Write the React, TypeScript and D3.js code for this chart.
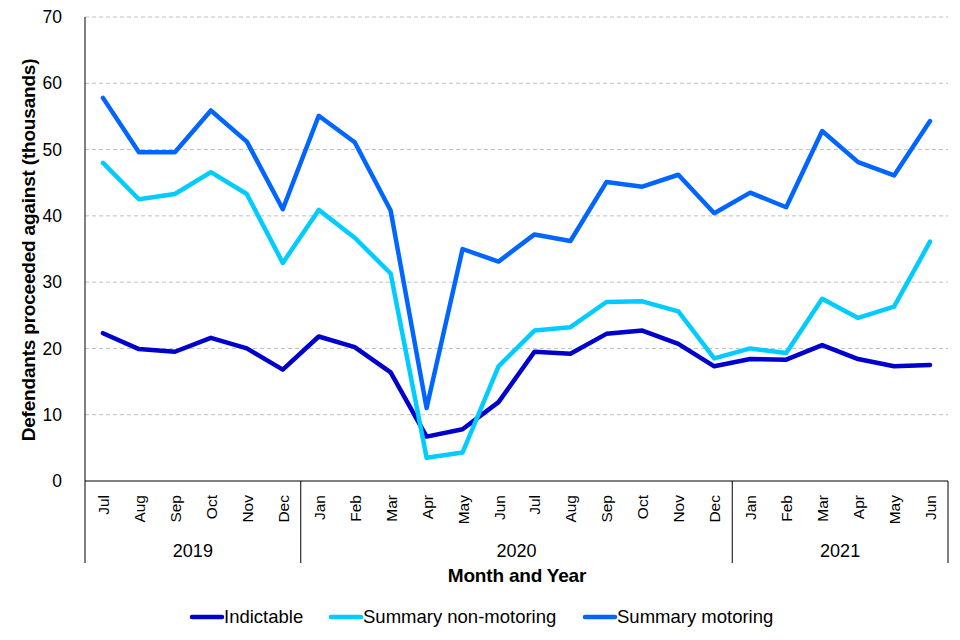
import { useRef, useEffect } from 'react';
import * as d3 from 'd3';

const months = [
  'Jul', 'Aug', 'Sep', 'Oct', 'Nov', 'Dec',
  'Jan', 'Feb', 'Mar', 'Apr', 'May', 'Jun', 'Jul', 'Aug', 'Sep', 'Oct', 'Nov', 'Dec',
  'Jan', 'Feb', 'Mar', 'Apr', 'May', 'Jun',
];
const years = [
  { label: '2019', count: 6 },
  { label: '2020', count: 12 },
  { label: '2021', count: 6 },
];
const indictable = [
  22.3, 19.9, 19.5, 21.6, 20.0, 16.8,
  21.8, 20.2, 16.4, 6.7, 7.8, 11.9, 19.5, 19.2, 22.2, 22.7, 20.7, 17.3,
  18.4, 18.3, 20.5, 18.4, 17.3, 17.5,
];
const nonMotoring = [
  48.0, 42.5, 43.3, 46.6, 43.3, 32.9,
  40.9, 36.7, 31.3, 3.5, 4.3, 17.3, 22.7, 23.2, 27.0, 27.1, 25.6, 18.5,
  20.0, 19.3, 27.5, 24.6, 26.3, 36.1,
];
const motoring = [
  57.8, 49.6, 49.6, 55.9, 51.2, 41.0,
  55.1, 51.1, 40.8, 11.0, 35.0, 33.1, 37.2, 36.2, 45.1, 44.4, 46.2, 40.4,
  43.5, 41.3, 52.8, 48.1, 46.1, 54.3,
];
const yTicks = [0, 10, 20, 30, 40, 50, 60, 70];

const series = [
  { name: 'Indictable', values: indictable, color: '#0000CC' },
  { name: 'Summary non-motoring', values: nonMotoring, color: '#00CCFF' },
  { name: 'Summary motoring', values: motoring, color: '#0066FF' },
];

const W = 960;
const H = 640;
const left = 85;
const right = 948;
const top = 17;
const bottom = 481;
const font = '"Liberation Sans", Arial, sans-serif';

const App = () => {
  const svgRef = useRef<SVGSVGElement | null>(null);

  useEffect(() => {
    const svg = d3.select(svgRef.current);
    svg.selectAll('*').remove();

    const x = d3.scaleBand<number>()
      .domain(months.map((m, i) => i))
      .range([left, right]);
    const y = d3.scaleLinear().domain([0, 70]).range([bottom, top]);

    // gridlines
    svg.append('g')
      .selectAll('line')
      .data(yTicks.filter((t) => t > 0))
      .join('line')
      .attr('x1', left)
      .attr('x2', right)
      .attr('y1', (d) => y(d))
      .attr('y2', (d) => y(d))
      .attr('stroke', '#c0c0c0')
      .attr('stroke-width', 1)
      .attr('stroke-dasharray', '4,3');

    // y tick labels
    svg.append('g')
      .selectAll('text')
      .data(yTicks)
      .join('text')
      .attr('x', 62)
      .attr('y', (d) => y(d))
      .attr('dy', '0.35em')
      .attr('text-anchor', 'end')
      .attr('font-family', font)
      .attr('font-size', 17.5)
      .text((d) => d);

    // axes lines
    svg.append('line')
      .attr('x1', left).attr('x2', left)
      .attr('y1', top).attr('y2', bottom)
      .attr('stroke', '#000');
    svg.append('line')
      .attr('x1', left).attr('x2', right)
      .attr('y1', bottom).attr('y2', bottom)
      .attr('stroke', '#000');

    // month labels
    svg.append('g')
      .selectAll('text')
      .data(months)
      .join('text')
      .attr('transform', (d, i) => `translate(${x(i)! + x.bandwidth() / 2 + 6},495) rotate(-90)`)
      .attr('text-anchor', 'end')
      .attr('font-family', font)
      .attr('font-size', 15.5)
      .text((d) => d);

    // year groups
    let start = 0;
    const bounds = [0];
    years.forEach((yr) => {
      start += yr.count;
      bounds.push(start);
    });
    svg.append('g')
      .selectAll('line')
      .data(bounds)
      .join('line')
      .attr('x1', (b) => (b < months.length ? x(b)! : right))
      .attr('x2', (b) => (b < months.length ? x(b)! : right))
      .attr('y1', bottom)
      .attr('y2', 563)
      .attr('stroke', '#000');
    svg.append('g')
      .selectAll('text')
      .data(years)
      .join('text')
      .attr('x', (yr, i) => {
        const a = x(bounds[i])!;
        const b = bounds[i + 1] < months.length ? x(bounds[i + 1])! : right;
        return (a + b) / 2;
      })
      .attr('y', 557)
      .attr('text-anchor', 'middle')
      .attr('font-family', font)
      .attr('font-size', 18)
      .text((yr) => yr.label);

    // titles
    svg.append('text')
      .attr('transform', `translate(35,250) rotate(-90)`)
      .attr('text-anchor', 'middle')
      .attr('font-family', font)
      .attr('font-size', 19)
      .attr('font-weight', 'bold')
      .attr('letter-spacing', -0.2)
      .text('Defendants proceeded against (thousands)');
    svg.append('text')
      .attr('x', 517)
      .attr('y', 582)
      .attr('text-anchor', 'middle')
      .attr('font-family', font)
      .attr('font-size', 19)
      .attr('font-weight', 'bold')
      .attr('letter-spacing', -0.2)
      .text('Month and Year');

    // lines
    const line = d3.line<number>()
      .x((d, i) => x(i)! + x.bandwidth() / 2)
      .y((d) => y(d));
    svg.append('g')
      .selectAll('path')
      .data(series)
      .join('path')
      .attr('d', (s) => line(s.values))
      .attr('fill', 'none')
      .attr('stroke', (s) => s.color)
      .attr('stroke-width', 4.5)
      .attr('stroke-linejoin', 'round')
      .attr('stroke-linecap', 'round');

    // legend
    const legendX = [192, 331, 585];
    const lg = svg.append('g')
      .selectAll('g')
      .data(series)
      .join('g')
      .attr('transform', (s, i) => `translate(${legendX[i]},617)`);
    lg.append('line')
      .attr('x1', 0).attr('x2', 30)
      .attr('y1', 0).attr('y2', 0)
      .attr('stroke', (s) => s.color)
      .attr('stroke-width', 4.5)
      .attr('stroke-linecap', 'round');
    lg.append('text')
      .attr('x', 32)
      .attr('dy', '0.35em')
      .attr('font-family', font)
      .attr('font-size', 18.5)
      .text((s) => s.name);
  }, []);

  return (
    <svg
      ref={svgRef}
      width={W}
      height={H}
      style={{ position: 'absolute', left: 0, top: 0 }}
    ></svg>
  );
};

export default App;
